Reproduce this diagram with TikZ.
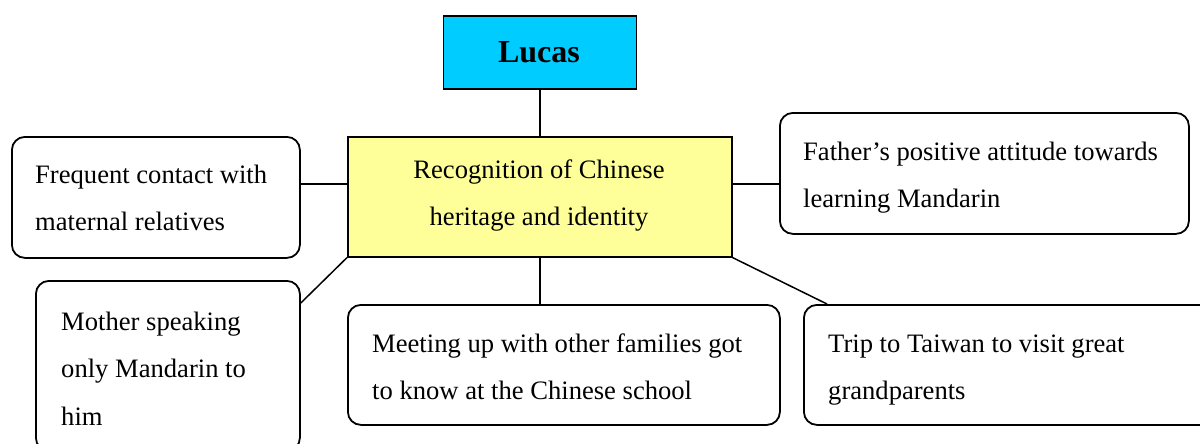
\documentclass[tikz,border=0pt]{standalone}
\usepackage{fontspec}
\setmainfont{Liberation Serif}
% stacked lines whose reference point is the first baseline
\newcommand\leftlines[1]{\vtop{\baselineskip=47.5pt\halign{##\hfil\cr#1\crcr}}}
\newcommand\centrelines[1]{\vtop{\baselineskip=47pt\halign{\hfil##\hfil\cr#1\crcr}}}
\begin{document}
\begin{tikzpicture}[x=1pt,y=-1pt,
  box/.style={draw=black,line width=1.8pt,rounded corners=13pt,inner sep=0pt,anchor=north west},
  flat/.style={draw=black,line width=1.6pt,inner sep=0pt,anchor=north west},
  label/.style={inner sep=0pt,anchor=base west,font=\fontsize{26.6}{47.5}\selectfont},
  link/.style={draw=black,line width=1.5pt}]
\useasboundingbox (0,0) rectangle (1200,444);
\fill[white] (0,0) rectangle (1200,444);

% central concept and the name above it
\node[flat,fill={rgb,255:red,0;green,204;blue,255},minimum width=193pt,minimum height=73pt] (lucas) at (442.5,15.5) {};
\node[inner sep=0pt,anchor=base,font=\fontsize{32}{38}\selectfont\bfseries] (lucastxt) at (539,63) {Lucas};
\node[flat,fill={rgb,255:red,255;green,255;blue,153},minimum width=384pt,minimum height=120pt] (core) at (347,136) {};
\node[label,anchor=base] (coretxt) at (539,178) {\centrelines{Recognition of Chinese\cr heritage and identity}};

% surrounding factors
\node[box,minimum width=288pt,minimum height=121pt] (rel) at (11,136) {};
\node[label] (reltxt) at (35,183) {\leftlines{Frequent contact with\cr maternal relatives}};

\node[box,minimum width=409pt,minimum height=121pt] (dad) at (779,112) {};
\node[label] (dadtxt) at (803,160) {\leftlines{Father’s positive attitude towards\cr learning Mandarin}};

\node[box,minimum width=264pt,minimum height=170pt] (mum) at (35,280) {};
\node[label] (mumtxt) at (61,330) {\leftlines{Mother speaking\cr only Mandarin to\cr him}};

\node[box,minimum width=432pt,minimum height=120pt] (meet) at (347,304) {};
\node[label] (meettxt) at (372,352) {\leftlines{Meeting up with other families got\cr to know at the Chinese school}};

\node[box,minimum width=420pt,minimum height=120pt] (trip) at (803,304) {};
\node[label] (triptxt) at (828,352) {\leftlines{Trip to Taiwan to visit great\cr grandparents}};

% connectors
\coordinate (level) at (0,184);
\draw[link] (lucas.south) -- (core.north);
\draw[link] (rel.east |- level) -- (core.west |- level);
\draw[link] (core.east |- level) -- (dad.west |- level);
\draw[link] (core.south west) -- ([yshift=-23pt]mum.north east);
\draw[link] (core.south) -- (core.south |- meet.north);
\draw[link] (core.south east) -- ([xshift=24pt]trip.north west);
\end{tikzpicture}
\end{document}
